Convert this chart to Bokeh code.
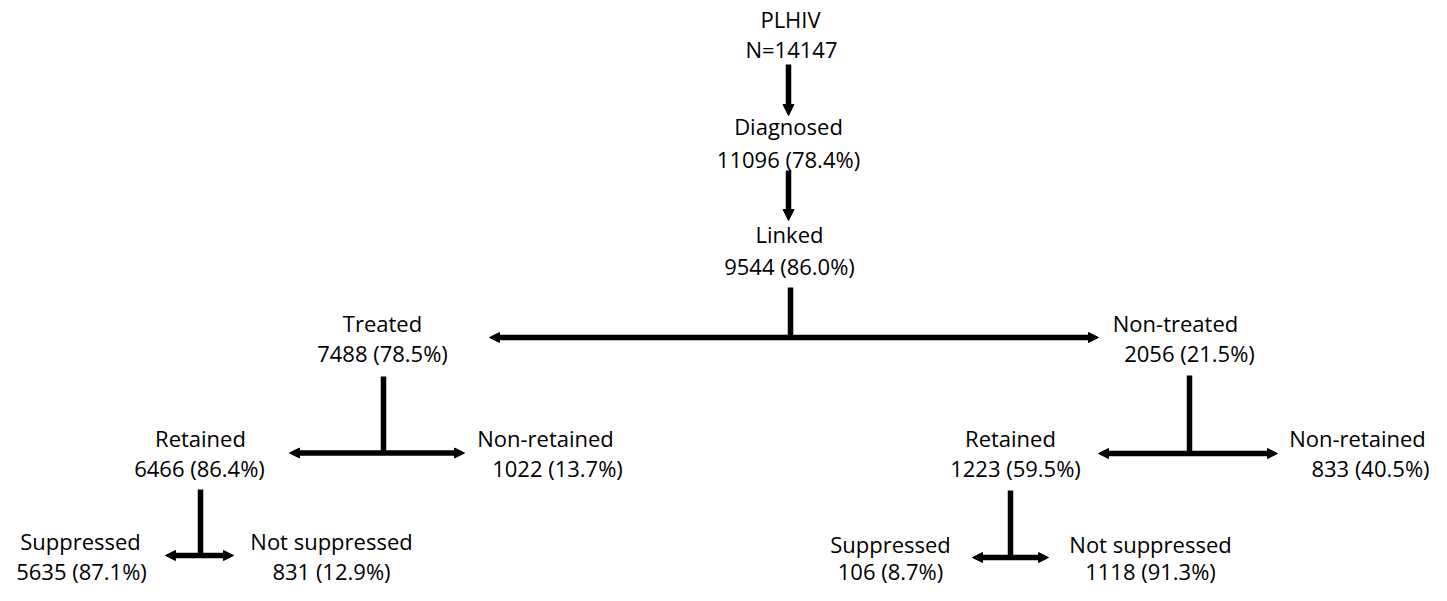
from bokeh.plotting import figure
from bokeh.models import Range1d, Arrow, NormalHead, ColumnDataSource
from bokeh.core.properties import value
from bokeh.embed import file_html
from bokeh.resources import INLINE

# ---- data ----
stages = ["PLHIV", "Diagnosed", "Linked", "Treated", "Non-treated",
          "Retained", "Non-retained", "Retained", "Non-retained",
          "Suppressed", "Not suppressed", "Suppressed", "Not suppressed"]
counts = [14147, 11096, 9544, 7488, 2056, 6466, 1022, 1223, 833, 5635, 831, 106, 1118]
pcts = [None, 78.4, 86.0, 78.5, 21.5, 86.4, 13.7, 59.5, 40.5, 87.1, 12.9, 8.7, 91.3]

# ---- layout (pixel positions of each node's two text lines) ----
x_line1 = [790, 788, 789, 382, 1175, 200, 545, 1010, 1357, 80, 331, 890, 1150]
x_line2 = [791, 788, 789, 382, 1189, 199, 557, 1015, 1370, 81, 331, 890, 1150]
y_base1 = [18.7, 125.3, 233.7, 322, 322, 437, 437, 437, 437, 540, 540, 543, 543]
y_base2 = [48.7, 158.7, 265.3, 352, 352, 467, 467, 467, 467, 570, 570, 570, 570]

# single-headed vertical arrows: (x, y_start, y_end)
down_arrows = [(788, 64, 115), (788, 170, 220)]
# plain connector stems: (x, y_start, y_end)
stems = [(790, 287, 338), (383, 376, 453), (1189, 375, 454), (200, 489, 556), (1010, 490, 558)]
# double-headed horizontals: (x_left, x_right, y)
splits = [(489, 1098, 337), (289, 464, 452.5), (1098, 1277, 453), (165, 233, 555), (972, 1048, 557)]

line1 = stages
line2 = ["N=%d" % counts[0]] + ["%d (%.1f%%)" % (c, p) for c, p in zip(counts[1:], pcts[1:])]

W, H = 1431, 585
p = figure(width=W, height=H, x_range=Range1d(0, W), y_range=Range1d(H, 0),
           output_backend="svg", toolbar_location=None, min_border=0)
p.axis.visible = False
p.grid.visible = False
p.outline_line_color = None
p.background_fill_color = "white"

src = ColumnDataSource(dict(x1=x_line1, x2=x_line2, y1=y_base1, y2=y_base2, t1=line1, t2=line2))
font = value("Open Sans")
for xk, yk, tk in (("x1", "y1", "t1"), ("x2", "y2", "t2")):
    p.text(x=xk, y=yk, text=tk, source=src, text_font=font, text_font_size="22px",
           text_align="center", text_baseline="alphabetic", text_color="black")

LW = 5.5
for x, y0, y1 in stems:
    p.segment(x0=[x], y0=[y0], x1=[x], y1=[y1], line_width=LW, line_color="black", line_cap="butt")

for x, y0, y1 in down_arrows:
    p.add_layout(Arrow(x_start=x, y_start=y0, x_end=x, y_end=y1, line_width=LW, line_color="black",
                       end=NormalHead(size=11, fill_color="black", line_color="black", line_width=1)))

for xl, xr, y in splits:
    p.add_layout(Arrow(x_start=xl, y_start=y, x_end=xr, y_end=y, line_width=LW, line_color="black",
                       start=NormalHead(size=10, fill_color="black", line_color="black", line_width=1),
                       end=NormalHead(size=10, fill_color="black", line_color="black", line_width=1)))

open("out.html", "w").write(file_html(p, INLINE))
